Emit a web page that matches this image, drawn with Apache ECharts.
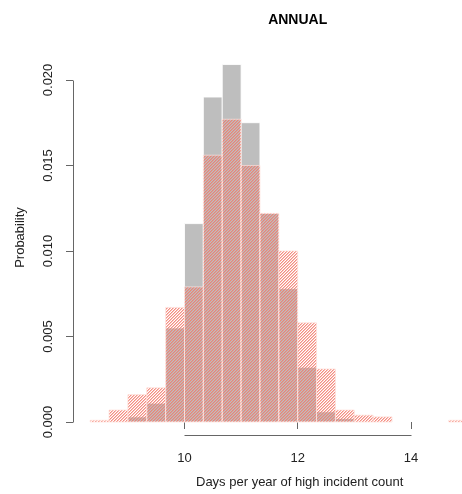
<!DOCTYPE html>
<html>
<head>
<meta charset="utf-8">
<script src="https://cdn.jsdelivr.net/npm/echarts@6/dist/echarts.min.js"></script>
<style>
html,body{margin:0;padding:0;background:#fff;}
#chart{width:462px;height:494px;}
</style>
</head>
<body>
<div id="chart"></div>
<script>
// ---- data ----
const binEdges = [8.333, 8.667, 9.0, 9.333, 9.667, 10.0, 10.333, 10.667, 11.0, 11.333, 11.667,
                  12.0, 12.333, 12.667, 13.0, 13.333, 13.667, 14.0, 14.333, 14.667, 15.0];
const grayValues = [0, 0, 0.0003, 0.0011, 0.0055, 0.0116, 0.0190, 0.0209, 0.0175, 0.0122,
                    0.0078, 0.0032, 0.0006, 0.0002, 0, 0, 0, 0, 0, 0];
const redValues = [0.0001, 0.0007, 0.0016, 0.0020, 0.0067, 0.0079, 0.0156, 0.0177, 0.0150, 0.0122,
                   0.0100, 0.0058, 0.0031, 0.0007, 0.0004, 0.0003, 0, 0, 0, 0.0001];
const xTicks = [10, 12, 14];
const yTicks = [0, 0.005, 0.010, 0.015, 0.020];
const yTickLabels = ['0.000', '0.005', '0.010', '0.015', '0.020'];
const titleText = 'ANNUAL';
const xLabel = 'Days per year of high incident count';
const yLabel = 'Probability';

// ---- build ----
const FONT = '"Liberation Sans", Arial, sans-serif';
const xMin = 8.03, xMax = 14.903, yMin = -0.00076, yMax = 0.02175;

function toItems(vals) {
  return vals.map((v, i) => [binEdges[i], binEdges[i + 1], v]);
}

// hatch pattern (fine "/" diagonal lines, transparent between)
const pat = document.createElement('canvas');
pat.width = 3; pat.height = 3;
const pctx = pat.getContext('2d');
for (let x = 0; x < 3; x++) {
  for (let y = 0; y < 3; y++) {
    const k = (x + y) % 3;
    if (k === 0) { pctx.fillStyle = 'rgba(242,122,108,0.85)'; pctx.fillRect(x, y, 1, 1); }
    else if (k === 1) { pctx.fillStyle = 'rgba(242,122,108,0.45)'; pctx.fillRect(x, y, 1, 1); }
  }
}

function makeRender(fill, stroke) {
  return function (params, api) {
    const v = api.value(2);
    if (!v) return null;
    const p0 = api.coord([api.value(0), 0]);
    const p1 = api.coord([api.value(1), v]);
    return {
      type: 'rect',
      shape: { x: p0[0], y: p1[1], width: p1[0] - p0[0], height: p0[1] - p1[1] },
      style: { fill: fill, stroke: stroke, lineWidth: 1 }
    };
  };
}

const chart = echarts.init(document.getElementById('chart'), null, { renderer: 'canvas' });
const option = {
  animation: false,
  backgroundColor: '#ffffff',
  grid: { left: 73, right: 0, top: 50, bottom: 59, containLabel: false },
  xAxis: {
    type: 'value', min: xMin, max: xMax,
    axisLine: { show: false },
    splitLine: { show: false },
    axisTick: { show: true, length: 7, customValues: xTicks, lineStyle: { color: '#666' } },
    axisLabel: { show: true, customValues: xTicks, margin: 17, fontSize: 13, fontFamily: FONT, color: '#222',
                 formatter: v => String(v) }
  },
  yAxis: {
    type: 'value', min: yMin, max: yMax,
    axisLine: { show: false },
    splitLine: { show: false },
    axisTick: { show: true, length: 7, customValues: yTicks, lineStyle: { color: '#666' } },
    axisLabel: { show: true, customValues: yTicks, rotate: 90, margin: 18, fontSize: 13, fontFamily: FONT, color: '#222',
                 formatter: v => { const i = yTicks.findIndex(t => Math.abs(t - v) < 1e-9); return i >= 0 ? yTickLabels[i] : ''; } }
  },
  series: [
    { type: 'custom', name: 'gray', data: toItems(grayValues), renderItem: makeRender('#bebebe', 'rgba(255,255,255,0.85)'), z: 1 },
    { type: 'custom', name: 'red', data: toItems(redValues), renderItem: makeRender({ image: pat, repeat: 'repeat' }, 'rgba(255,225,220,0.7)'), z: 2 }
  ]
};
chart.setOption(option);

const a0 = chart.convertToPixel({ gridIndex: 0 }, [xTicks[0], yMin]);
const a1 = chart.convertToPixel({ gridIndex: 0 }, [xTicks[xTicks.length - 1], yMin]);
const b0 = chart.convertToPixel({ gridIndex: 0 }, [xMin, yTicks[0]]);
const b1 = chart.convertToPixel({ gridIndex: 0 }, [xMin, yTicks[yTicks.length - 1]]);
const xMid = chart.convertToPixel({ gridIndex: 0 }, [12, 0])[0];
const yMid = chart.convertToPixel({ gridIndex: 0 }, [xMin, (yMin + yMax) / 2])[1];

chart.setOption({
  graphic: [
    { type: 'line', shape: { x1: Math.round(a0[0]) + 0.5, y1: Math.round(a0[1]) + 0.5, x2: Math.round(a1[0]) + 0.5, y2: Math.round(a1[1]) + 0.5 },
      style: { stroke: '#666', lineWidth: 1 }, z: 10 },
    { type: 'line', shape: { x1: Math.round(b0[0]) + 0.5, y1: Math.round(b0[1]) + 0.5, x2: Math.round(b1[0]) + 0.5, y2: Math.round(b1[1]) + 0.5 },
      style: { stroke: '#666', lineWidth: 1 }, z: 10 },
    { type: 'text', x: xMid, y: 20, style: { text: titleText, font: 'bold 14px ' + FONT, fill: '#000', align: 'center', verticalAlign: 'middle' } },
    { type: 'text', x: xMid + 2, y: 482, style: { text: xLabel, font: '13px ' + FONT, fill: '#222', align: 'center', verticalAlign: 'middle' } },
    { type: 'text', x: 20, y: yMid - 5, rotation: Math.PI / 2, style: { text: yLabel, font: '13px ' + FONT, fill: '#222', align: 'center', verticalAlign: 'middle' } }
  ]
});
</script>
</body>
</html>
